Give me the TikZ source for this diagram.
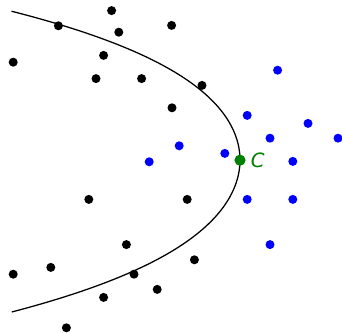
\documentclass[tikz,border=0pt]{standalone}
\usepackage{fontspec}
\setsansfont{DejaVu Sans}
\usepackage{tikz}
\usetikzlibrary{positioning}
\usepackage{xcolor}
\definecolor{posblue}{RGB}{0,0,255}
\definecolor{centergreen}{RGB}{0,128,0}

\begin{document}
\begin{tikzpicture}[
    x=1cm, y=1cm,
    dot/.style={circle, minimum size=2.25mm, inner sep=0pt, draw=none},
    negdot/.style={dot, fill=black},
    posdot/.style={dot, fill=posblue},
    ctrdot/.style={dot, minimum size=2.8mm, fill=centergreen},
    boundary/.style={line width=0.9pt, draw=black},
    ctrlabel/.style={font=\sffamily\itshape\fontsize{14}{16}\selectfont, text=centergreen}
]
\useasboundingbox (0,0) rectangle (8.55,8.325);

% separating curve
\draw[boundary] plot[domain=-3.8:3.72, samples=80, smooth]
    ({6.0-0.2935*\x*\x-0.00783*\x*\x*\x*\x-0.003*\x*\x*\x}, {4.325+\x});

% black points
\node[negdot] (n1)  at (2.79,8.06) {};
\node[negdot] (n2)  at (1.46,7.68) {};
\node[negdot] (n3)  at (2.97,7.52) {};
\node[negdot] (n4)  at (4.29,7.69) {};
\node[negdot] (n5)  at (0.33,6.77) {};
\node[negdot] (n6)  at (2.59,6.94) {};
\node[negdot] (n7)  at (2.40,6.36) {};
\node[negdot] (n8)  at (3.54,6.36) {};
\node[negdot] (n9)  at (5.05,6.19) {};
\node[negdot] (n10) at (4.30,5.63) {};
\node[negdot] (n11) at (2.22,3.34) {};
\node[negdot] (n12) at (4.68,3.34) {};
\node[negdot] (n13) at (3.16,2.21) {};
\node[negdot] (n14) at (1.27,1.64) {};
\node[negdot] (n15) at (0.33,1.47) {};
\node[negdot] (n16) at (3.35,1.47) {};
\node[negdot] (n17) at (4.86,1.83) {};
\node[negdot] (n18) at (3.93,1.09) {};
\node[negdot] (n19) at (2.59,0.89) {};
\node[negdot] (n20) at (1.66,0.13) {};

% blue points
\node[posdot] (p1)  at (6.94,6.57) {};
\node[posdot] (p2)  at (6.18,5.44) {};
\node[posdot] (p3)  at (7.70,5.24) {};
\node[posdot] (p4)  at (6.75,4.87) {};
\node[posdot] (p5)  at (8.45,4.87) {};
\node[posdot] (p6)  at (4.48,4.68) {};
\node[posdot] (p7)  at (3.73,4.28) {};
\node[posdot] (p8)  at (5.62,4.49) {};
\node[posdot] (p9)  at (7.32,4.29) {};
\node[posdot] (p10) at (6.18,3.34) {};
\node[posdot] (p11) at (7.32,3.34) {};
\node[posdot] (p12) at (6.75,2.21) {};

% centre point
\node[ctrdot] (c) at (6.00,4.32) {};
\node[ctrlabel, right=0pt of c] (clbl) {C};
\end{tikzpicture}
\end{document}
